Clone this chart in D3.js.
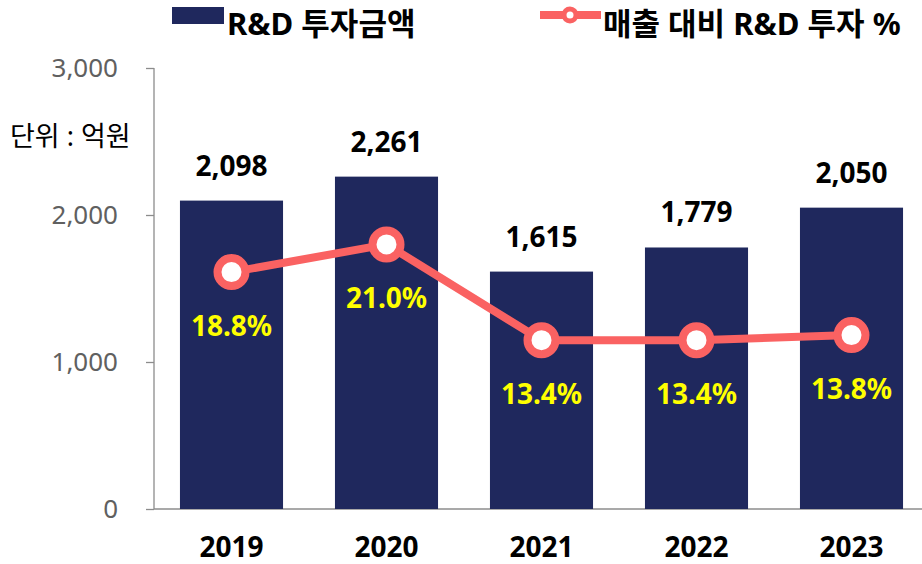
<!DOCTYPE html>
<html>
<head>
<meta charset="utf-8">
<script src="https://cdn.jsdelivr.net/npm/d3@7"></script>
<style>
  html, body { margin: 0; padding: 0; background: #fff; }
  svg { display: block; font-family: "Noto Sans", "Noto Sans CJK KR", sans-serif; }
</style>
</head>
<body>
<svg id="chart"></svg>
<script>
// data
const years = ["2019", "2020", "2021", "2022", "2023"];
const rndAmount = [2098, 2261, 1615, 1779, 2050];   // 억원
const rndRatio = [18.8, 21.0, 13.4, 13.4, 13.8];    // %
const yTicks = [0, 1000, 2000, 3000];

const W = 922, H = 564;
const NAVY = "#1f285d", RED = "#fa6262";

const svg = d3.select("#chart").attr("width", W).attr("height", H);

const x = d3.scaleBand().domain(years).range([154, 929])
    .paddingInner(0.335).paddingOuter(0.1675);
const y = d3.scaleLinear().domain([0, 3000]).range([509, 68]);
const y2 = d3.scaleLinear().domain([0, 35]).range([509, 68]);   // 보조축 (숨김)

// 왼쪽 축
const axis = svg.append("g")
    .attr("transform", "translate(154,0)")
    .call(d3.axisLeft(y).tickValues(yTicks).tickSize(8).tickPadding(28)
        .tickFormat(d3.format(",")));
axis.select(".domain").attr("stroke", "#8c8c8c").attr("stroke-width", 1.3)
    .attr("d", "M0,68V509");
axis.selectAll(".tick line").attr("stroke", "#8c8c8c").attr("stroke-width", 1.3);
axis.selectAll(".tick text").attr("fill", "#606060")
    .attr("font-size", 26).attr("font-family", "Noto Sans, sans-serif");

// 바닥선
svg.append("line").attr("x1", 154).attr("x2", W).attr("y1", y(0)).attr("y2", y(0))
    .attr("stroke", "#8c8c8c").attr("stroke-width", 1.3);

// 막대
svg.append("g").selectAll("rect")
    .data(rndAmount)
    .join("rect")
    .attr("x", (d, i) => x(years[i]))
    .attr("width", x.bandwidth())
    .attr("y", d => y(d))
    .attr("height", d => y(0) - y(d))
    .attr("fill", NAVY);

// 막대 값
svg.append("g").selectAll("text")
    .data(rndAmount)
    .join("text")
    .attr("x", (d, i) => x(years[i]) + x.bandwidth() / 2)
    .attr("y", d => y(d) - 25)
    .attr("text-anchor", "middle")
    .attr("font-size", 28).attr("font-weight", "bold").attr("fill", "#000")
    .text(d => d3.format(",")(d));

// x축 라벨
svg.append("g").selectAll("text")
    .data(years)
    .join("text")
    .attr("x", d => x(d) + x.bandwidth() / 2)
    .attr("y", 557)
    .attr("text-anchor", "middle")
    .attr("font-size", 28).attr("font-weight", "bold").attr("fill", "#000")
    .text(d => d);

// 비율 선
const cx = i => x(years[i]) + x.bandwidth() / 2;
const line = d3.line().x((d, i) => cx(i)).y(d => y2(d));
svg.append("path").datum(rndRatio)
    .attr("d", line)
    .attr("fill", "none").attr("stroke", RED).attr("stroke-width", 8)
    .attr("stroke-linejoin", "round");

svg.append("g").selectAll("circle")
    .data(rndRatio)
    .join("circle")
    .attr("cx", (d, i) => cx(i))
    .attr("cy", d => y2(d))
    .attr("r", 14)
    .attr("fill", "#fff").attr("stroke", RED).attr("stroke-width", 8);

svg.append("g").selectAll("text")
    .data(rndRatio)
    .join("text")
    .attr("x", (d, i) => cx(i))
    .attr("y", d => y2(d) + 64)
    .attr("text-anchor", "middle")
    .attr("font-size", 28).attr("font-weight", "bold").attr("fill", "#ffff00")
    .text(d => d.toFixed(1) + "%");

// 단위
svg.append("text").attr("x", 10).attr("y", 146)
    .attr("font-size", 27).attr("fill", "#000")
    .text("단위 : 억원");

// 범례
const lg = svg.append("g");
lg.append("rect").attr("x", 172).attr("y", 7).attr("width", 52).attr("height", 17).attr("fill", NAVY);
lg.append("text").attr("x", 227).attr("y", 35)
    .attr("font-size", 31).attr("font-weight", "bold").text("R&D 투자금액");
lg.append("line").attr("x1", 540).attr("x2", 601).attr("y1", 15).attr("y2", 15)
    .attr("stroke", RED).attr("stroke-width", 8);
lg.append("circle").attr("cx", 570).attr("cy", 15).attr("r", 6)
    .attr("fill", "#fff").attr("stroke", RED).attr("stroke-width", 5);
lg.append("text").attr("x", 603).attr("y", 35)
    .attr("font-size", 31).attr("font-weight", "bold").text("매출 대비 R&D 투자 %");
</script>
</body>
</html>
